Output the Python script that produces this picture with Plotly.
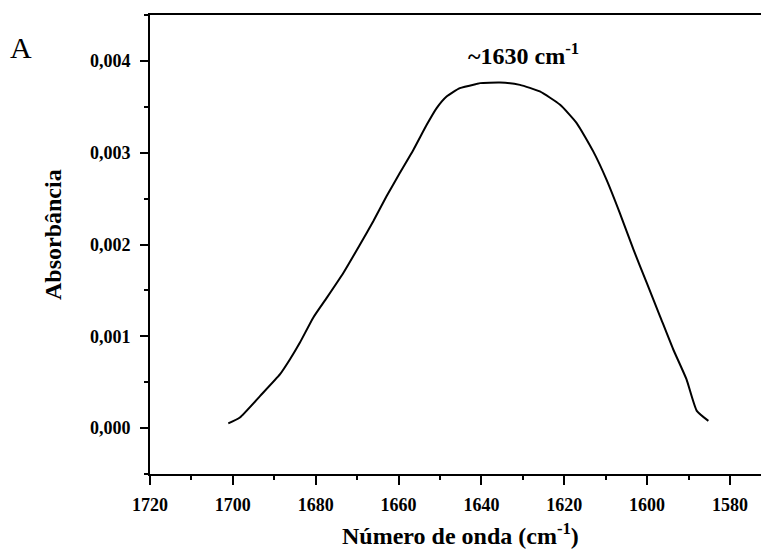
import plotly.graph_objects as go

# Data
wavenumber = [1701.1, 1698.3, 1693.4, 1688.6, 1686.2, 1683.8, 1680.6, 1677.3, 1673.3,
              1669.3, 1666.1, 1662.9, 1659.7, 1656.4, 1653.2, 1650.8, 1648.4, 1645.2,
              1641.1, 1640.3, 1635.5, 1630.7, 1625.9, 1621.0, 1617.0, 1613.0, 1609.8,
              1606.6, 1603.3, 1600.1, 1596.9, 1593.7, 1590.5, 1588.0, 1585.2]
absorbance = [0.000051, 0.000116, 0.000351, 0.000587, 0.000750, 0.000932, 0.001203,
              0.001421, 0.001692, 0.002000, 0.002253, 0.002525, 0.002779, 0.003033,
              0.003304, 0.003486, 0.003612, 0.003703, 0.003750, 0.003758, 0.003764,
              0.003739, 0.003667, 0.003522, 0.003323, 0.003014, 0.002707, 0.002345,
              0.001946, 0.001584, 0.001221, 0.000859, 0.000533, 0.000188, 0.000079]

x_ticks = [1720, 1700, 1680, 1660, 1640, 1620, 1600, 1580]
y_ticks = [0.000, 0.001, 0.002, 0.003, 0.004]

W, H = 761, 551
L, R, T, B = 150, 0, 15, 77
pw, ph = W - L - R, H - T - B

def px(x):
    return (x - L) / pw

def py(y):
    return (H - B - y) / ph

FONT = "Liberation Serif, Times New Roman, serif"

fig = go.Figure()
fig.add_trace(go.Scatter(x=wavenumber, y=absorbance, mode="lines",
                         line=dict(color="black", width=2, shape="spline", smoothing=0.5),
                         showlegend=False, hoverinfo="skip"))

fig.update_layout(
    width=W, height=H,
    margin=dict(l=L, r=R, t=T, b=B, pad=0),
    paper_bgcolor="white", plot_bgcolor="white",
    separators=",.",
    font=dict(family=FONT, color="black"),
    xaxis=dict(range=[1720, 1572.5], tickvals=x_ticks, ticks="outside", ticklen=9,
               tickwidth=1.5, tickcolor="black", showline=True, linewidth=2,
               linecolor="black", mirror=True, showgrid=False, zeroline=False,
               tickfont=dict(family=FONT, size=18, color="black", weight="bold"),
               minor=dict(dtick=10, ticks="outside", ticklen=4, tickwidth=1.5,
                          tickcolor="black", showgrid=False),
               ticklabelstandoff=4),
    yaxis=dict(range=[-0.0005, 0.0045], tickvals=y_ticks, tickformat=".3f",
               ticks="outside", ticklen=8, tickwidth=1.5, tickcolor="black",
               showline=True, linewidth=2, linecolor="black", showgrid=False,
               zeroline=False,
               tickfont=dict(family=FONT, size=18, color="black", weight="bold"),
               minor=dict(dtick=0.0005, ticks="outside", ticklen=4, tickwidth=1.5,
                          tickcolor="black", showgrid=False),
               ticklabelstandoff=6),
)

fig.add_annotation(text="~1630 cm<sup>-1</sup>", xref="paper", yref="paper",
                   x=px(523), y=py(54), showarrow=False, xanchor="center", yanchor="middle",
                   font=dict(family=FONT, size=24, color="black", weight="bold"))
fig.add_annotation(text="A", xref="paper", yref="paper",
                   x=px(21), y=py(48), showarrow=False, xanchor="center", yanchor="middle",
                   font=dict(family=FONT, size=30, color="black"))
fig.add_annotation(text="Absorbância", xref="paper", yref="paper", textangle=-90,
                   x=px(53), y=py(235), showarrow=False, xanchor="center", yanchor="middle",
                   font=dict(family=FONT, size=24, color="black", weight="bold"))
fig.add_annotation(text="Número de onda (cm<sup>-1</sup>)", xref="paper", yref="paper",
                   x=px(460), y=py(534), showarrow=False, xanchor="center", yanchor="middle",
                   font=dict(family=FONT, size=24, color="black", weight="bold"))

fig.write_html("out.html")
